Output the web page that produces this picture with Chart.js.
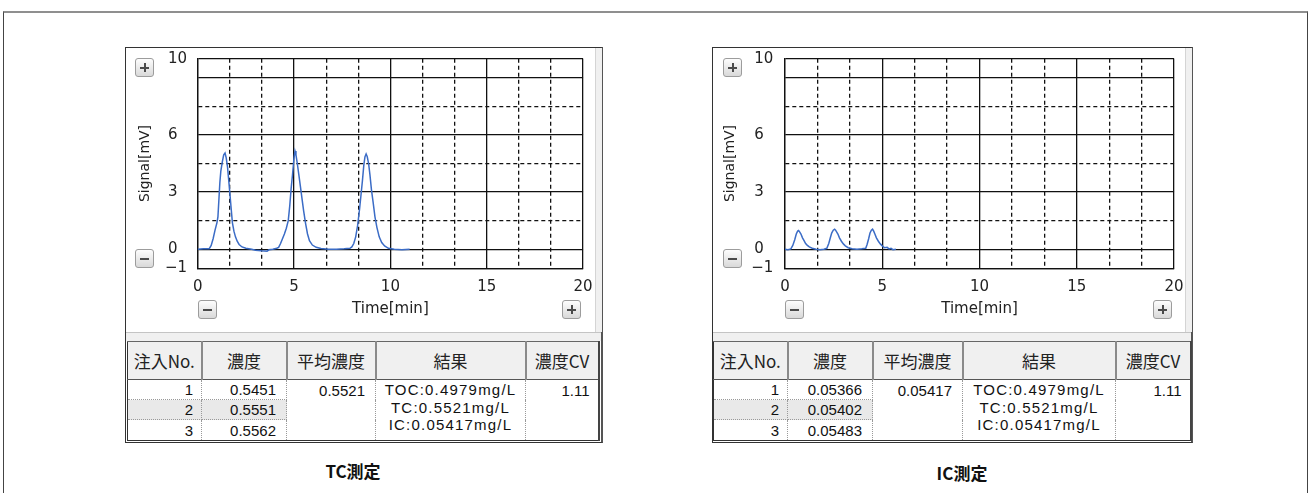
<!DOCTYPE html>
<html><head><meta charset="utf-8">
<script src="https://cdn.jsdelivr.net/npm/chart.js@4.4.1/dist/chart.umd.min.js"></script>
<style>
html,body{margin:0;padding:0;background:#fff;}
body{width:1311px;height:493px;position:relative;overflow:hidden;font-family:'Noto Sans CJK JP',sans-serif;}
.frame{position:absolute;left:3px;top:11px;width:1303px;height:520px;border-top:2px solid #8f8f8f;border-left:1px solid #444;border-right:1px solid #444;}
.panel{position:absolute;top:47px;height:396px;box-sizing:border-box;background:#fff;border-left:1px solid #333;border-top:1px solid #333;border-right:2px solid #555;border-bottom:1px solid #333;}
.strip{position:absolute;top:48px;width:6px;height:284px;background:#f0f0f0;border-left:1px solid #d4d4d4;}
.band{position:absolute;top:332px;height:9px;background:#f0f0f0;border-top:1px solid #c4c4c4;box-sizing:border-box;}
canvas{position:absolute;}
.btn{position:absolute;width:19px;height:19px;box-sizing:border-box;border:1px solid #9c9c9c;border-radius:3px;background:linear-gradient(#fdfdfd,#d9d9d9);}
.btn .h{position:absolute;left:4px;top:7.5px;width:9px;height:2px;background:#4a4a4a;}
.btn .v{position:absolute;left:7.5px;top:4px;width:2px;height:9px;background:#4a4a4a;}
table{position:absolute;top:341px;border-collapse:collapse;table-layout:fixed;font-family:'Liberation Sans',Arial,sans-serif;font-size:15px;color:#111;}
th{padding:0;background:#f0f0f0;font-family:'Noto Sans CJK JP',sans-serif;font-weight:normal;font-size:17px;color:#222;border-right:2px solid #8a8a8a;border-top:1px solid #666;border-bottom:1px solid #555;white-space:nowrap;overflow:hidden;}
th:first-child{border-left:1px solid #333;}
th:last-child{border-right:2px solid #444;}
td{padding:0 8px 0 0;text-align:right;line-height:19px;border-right:1px dotted #999;border-bottom:1px dotted #999;white-space:nowrap;vertical-align:middle;}
td.first{border-left:1px solid #333;}
tr.last td{border-bottom:1px solid #333;}
td.span{vertical-align:top;border-bottom:1px solid #333;padding-top:1px;}
td.res{text-align:center;padding:1px 0 0 0;line-height:17.5px;letter-spacing:1.2px;}
td.cv{border-right:2px solid #444;}
td.gray{background:#e9e9e9;}
.cap{position:absolute;font-family:'Noto Sans CJK JP',sans-serif;font-weight:bold;font-size:17px;line-height:20px;color:#111;transform:translateX(-50%);white-space:nowrap;}
</style>
</head><body>
<div class="frame"></div>

<div class="panel" style="left:125px;width:478px;"></div>
<div class="strip" style="left:595px;"></div>
<div class="band" style="left:126px;width:475px;"></div>
<canvas id="tcChart" width="475" height="285" style="left:127px;top:39px;"></canvas>
<table id="tcTable" style="left:127px;width:471px;"></table>

<div class="panel" style="left:712px;width:481px;"></div>
<div class="strip" style="left:1185px;"></div>
<div class="band" style="left:713px;width:478px;"></div>
<canvas id="icChart" width="478" height="286" style="left:715px;top:38px;"></canvas>
<table id="icTable" style="left:713px;width:477px;"></table>

<div class="btn" style="left:135px;top:58px;"><div class="h"></div><div class="v"></div></div>
<div class="btn" style="left:135px;top:249px;"><div class="h"></div></div>
<div class="btn" style="left:198px;top:300px;"><div class="h"></div></div>
<div class="btn" style="left:562px;top:300px;"><div class="h"></div><div class="v"></div></div>

<div class="btn" style="left:723px;top:58px;"><div class="h"></div><div class="v"></div></div>
<div class="btn" style="left:723px;top:249px;"><div class="h"></div></div>
<div class="btn" style="left:785px;top:300px;"><div class="h"></div></div>
<div class="btn" style="left:1153px;top:300px;"><div class="h"></div><div class="v"></div></div>

<div class="cap" style="left:353px;top:461px;">TC測定</div>
<div class="cap" style="left:962px;top:463px;">IC測定</div>

<script>
// ---- data ----
const tcTime = [0, 0.3, 0.6, 0.7, 0.8, 0.9, 1.0, 1.05, 1.1, 1.15, 1.2, 1.28, 1.35, 1.42, 1.48, 1.55, 1.62, 1.68, 1.74, 1.8, 1.88, 1.96, 2.05, 2.15, 2.3, 2.5, 2.8, 3.0, 3.3, 3.6, 3.7, 3.9, 4.1, 4.2, 4.3, 4.4, 4.5, 4.6, 4.7, 4.78, 4.85, 4.92, 5.0, 5.05, 5.1, 5.17, 5.25, 5.33, 5.42, 5.5, 5.6, 5.7, 5.8, 5.95, 6.15, 6.4, 6.8, 7.2, 7.6, 7.9, 8.0, 8.1, 8.2, 8.3, 8.4, 8.48, 8.55, 8.62, 8.68, 8.74, 8.8, 8.87, 8.94, 9.02, 9.1, 9.2, 9.3, 9.42, 9.55, 9.7, 9.9, 10.2, 10.6, 11.0];
const tcSignal = [0.0, 0.02, 0.03, 0.2, 0.55, 1.0, 1.4, 1.7, 2.6, 3.5, 4.1, 4.6, 4.95, 5.05, 4.8, 4.3, 3.5, 2.8, 2.1, 1.4, 0.95, 0.65, 0.42, 0.25, 0.12, 0.05, 0.0, -0.05, -0.08, -0.1, -0.03, 0.0, 0.05, 0.1, 0.3, 0.55, 0.8, 1.1, 1.5, 2.3, 3.2, 3.9, 4.8, 5.15, 4.95, 4.5, 3.9, 3.3, 2.6, 2.0, 1.35, 0.8, 0.45, 0.22, 0.1, 0.04, 0.0, 0.0, 0.02, 0.05, 0.12, 0.3, 0.65, 1.25, 2.1, 2.9, 3.6, 4.4, 4.85, 5.0, 4.85, 4.5, 3.9, 3.1, 2.5, 1.7, 1.15, 0.65, 0.35, 0.17, 0.05, 0.0, -0.02, 0.0];
const icTime = [0, 0.15, 0.3, 0.4, 0.5, 0.58, 0.65, 0.7, 0.76, 0.82, 0.9, 0.98, 1.06, 1.15, 1.25, 1.4, 1.6, 1.8, 2.0, 2.15, 2.25, 2.33, 2.4, 2.48, 2.55, 2.6, 2.66, 2.72, 2.8, 2.9, 3.0, 3.1, 3.25, 3.45, 3.7, 3.95, 4.15, 4.22, 4.3, 4.37, 4.44, 4.5, 4.56, 4.62, 4.7, 4.8, 4.9, 5.0, 5.12, 5.25, 5.35, 5.45, 5.55, 5.7];
const icSignal = [0, -0.02, 0.02, 0.2, 0.5, 0.8, 0.95, 0.98, 0.9, 0.8, 0.6, 0.45, 0.3, 0.2, 0.12, 0.05, 0.0, -0.03, 0.0, 0.05, 0.3, 0.6, 0.85, 1.0, 1.05, 1.0, 0.9, 0.8, 0.6, 0.42, 0.28, 0.18, 0.08, 0.03, 0.0, 0.02, 0.05, 0.25, 0.55, 0.85, 1.0, 1.05, 0.95, 0.8, 0.6, 0.42, 0.28, 0.18, 0.08, 0.1, 0.02, 0.05, -0.02, 0.0];

const xTickLabels = [0, 5, 10, 15, 20];
const yTickValues = [-1, 0, 1.5, 3, 4.5, 6, 7.5, 9, 10];
const yTickLabels = ['\u22121', '0', '', '3', '', '6', '', '', '10'];

const tableHeaders = ['注入No.', '濃度', '平均濃度', '結果', '濃度CV'];
const injectionNo = ['1', '2', '3'];
const tcConcentration = ['0.5451', '0.5551', '0.5562'];
const tcMean = '0.5521';
const icConcentration = ['0.05366', '0.05402', '0.05483'];
const icMean = '0.05417';
const resultLines = ['TOC:0.4979mg/L', 'TC:0.5521mg/L', 'IC:0.05417mg/L'];
const concentrationCV = '1.11';

// ---- grid helpers ----
const xGrid = [];
for (let i = 0; i < xTickLabels.length; i++) {
  const a = xTickLabels[i];
  xGrid.push(a);
  if (i < xTickLabels.length - 1) {
    const s = (xTickLabels[i + 1] - a) / 3;
    xGrid.push(a + s, a + 2 * s);
  }
}
const near = (a, b) => Math.abs(a - b) < 1e-6;
const isMinorX = v => !xTickLabels.some(t => near(t, v));
const isMinorY = v => near(((v % 3) + 3) % 3, 1.5);
const GRID = '#111';

function makeChart(id, times, signals, g) {
  return new Chart(document.getElementById(id), {
    type: 'line',
    data: { datasets: [{
      data: times.map((t, i) => ({ x: t, y: signals[i] })),
      borderColor: '#3b6cc6', borderWidth: 1.5, pointRadius: 0, tension: 0, fill: false
    }] },
    options: {
      responsive: false, animation: false, events: [],
      layout: { padding: { left: 0, top: 0, right: 0, bottom: g.padBottom } },
      plugins: { legend: { display: false }, tooltip: { enabled: false } },
      scales: {
        x: {
          type: 'linear', min: 0, max: 20,
          afterBuildTicks: s => { s.ticks = xGrid.map(v => ({ value: v })); },
          afterFit: s => { s.height = g.xAxisH; },
          ticks: { autoSkip: false, maxRotation: 0, padding: 9.4, color: '#222',
            font: { family: 'DejaVu Sans', size: 15 },
            callback: v => isMinorX(v) ? '' : String(Math.round(v)) },
          grid: { color: GRID, lineWidth: 1.3, drawTicks: false },
          border: { display: true, color: GRID, width: 1.3,
            dash: c => (c.tick && isMinorX(c.tick.value)) ? [4, 3] : [] },
          title: { display: true, text: 'Time[min]', color: '#222',
            font: { family: 'DejaVu Sans', size: 15 }, padding: { top: 0, bottom: 1.7 } }
        },
        y: {
          type: 'linear', min: -1, max: 10,
          afterBuildTicks: s => { s.ticks = yTickValues.map(v => ({ value: v })); },
          afterFit: s => { s.width = g.yAxisW; },
          ticks: { autoSkip: false, padding: g.yTickPad, crossAlign: 'near', color: '#222',
            font: { family: 'DejaVu Sans', size: 15 },
            callback: v => {
              const i = yTickValues.findIndex(t => near(t, v));
              const l = i >= 0 ? yTickLabels[i] : '';
              return l.length === 1 ? l + '\u2007' : l;
            } },
          grid: { color: GRID, lineWidth: 1.3, drawTicks: false },
          border: { display: true, color: GRID, width: 1.3,
            dash: c => (c.tick && isMinorY(c.tick.value)) ? [4, 3] : [] },
          title: { display: true, text: 'Signal[mV]', color: '#222',
            font: { family: 'DejaVu Sans', size: 14 }, padding: { top: g.yTitlePad, bottom: 0 } }
        }
      }
    }
  });
}

makeChart('tcChart', tcTime, tcSignal, { padBottom: 4, xAxisH: 51.7, yAxisW: 70.7, yTickPad: 10.7, yTitlePad: 9.6 });
makeChart('icChart', icTime, icSignal, { padBottom: 4, xAxisH: 51.7, yAxisW: 70, yTickPad: 11.7, yTitlePad: 7.4 });

// ---- tables ----
function buildTable(id, conc, mean, widths) {
  const t = document.getElementById(id);
  let h = '<colgroup>' + widths.map(w => '<col style="width:' + w + 'px">').join('') + '</colgroup>';
  h += '<tr style="height:38px">' + tableHeaders.map(x => '<th>' + x + '</th>').join('') + '</tr>';
  for (let i = 0; i < injectionNo.length; i++) {
    const gray = i === 1 ? ' gray' : '';
    const last = i === injectionNo.length - 1 ? ' class="last"' : '';
    h += '<tr' + last + ' style="height:' + (i === 2 ? 21 : 20) + 'px">';
    h += '<td class="first' + gray + '">' + injectionNo[i] + '</td>';
    h += '<td class="' + gray + '" style="padding-right:10px">' + conc[i] + '</td>';
    if (i === 0) {
      h += '<td class="span" rowspan="3" style="padding-right:10px">' + mean + '</td>';
      h += '<td class="span res" rowspan="3">' + resultLines.join('<br>') + '</td>';
      h += '<td class="span cv" rowspan="3">' + concentrationCV + '</td>';
    }
    h += '</tr>';
  }
  t.innerHTML = h;
}
buildTable('tcTable', tcConcentration, tcMean, [74, 85, 89, 150, 73]);
buildTable('icTable', icConcentration, icMean, [74, 85, 90, 153, 75]);
</script>
</body></html>
